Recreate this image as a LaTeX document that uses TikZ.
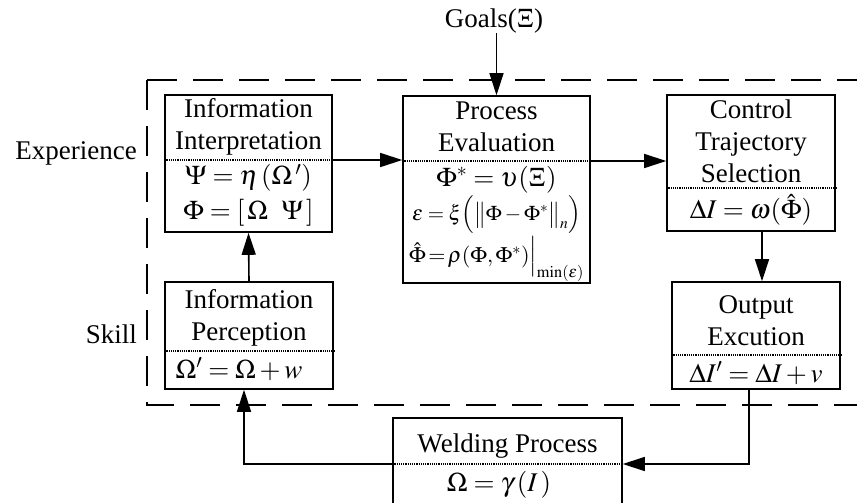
\documentclass[tikz,border=0pt]{standalone}
\usepackage{mathptmx}
\usepackage[no-math]{fontspec}
\setmainfont{Liberation Serif}
\usetikzlibrary{arrows.meta,positioning}

\begin{document}
\begin{tikzpicture}[x=1pt,y=-1pt,
        caja/.style={draw,line width=1.6pt,inner sep=0pt},
        texto/.style={font=\fontsize{27}{32}\selectfont,align=center,inner sep=0pt},
        formula/.style={font=\fontsize{27}{32}\selectfont,inner sep=0pt},
        punteado/.style={densely dotted,line width=1.2pt},
        flecha/.style={line width=1.6pt,-{Triangle[length=22pt,width=14pt]}}]
    \useasboundingbox (0,0) rectangle (857,503);
    \clip (0,0) rectangle (857,503);
    % Dashed frame of the two levels
    \draw[line width=1.6pt,dash pattern=on 30pt off 16pt] (147,80) -- (857,80);
    \draw[line width=1.6pt,dash pattern=on 30pt off 16pt] (147,80) -- (147,405) -- (857,405);
    \node[texto,anchor=east] (experience) at (137,153) {Experience};
    \node[texto,anchor=east] (skill) at (137,334) {Skill};
    % Boxes
    \node[caja,minimum width=167pt,minimum height=137pt] (interp) at (248.5,163.5) {};
    \node[caja,minimum width=187pt,minimum height=187pt] (eval) at (496.5,189.5) {};
    \node[caja,minimum width=168pt,minimum height=136pt] (select) at (751,163) {};
    \node[caja,minimum width=168pt,minimum height=107pt] (percep) at (249,335.5) {};
    \node[caja,minimum width=168pt,minimum height=107pt] (output) at (756,335.5) {};
    \node[caja,minimum width=229pt,minimum height=102pt] (weld) at (507.5,469) {};
    % Dotted dividers
    \draw[punteado] (interp.west |- 0,160) coordinate (interpIzq) -- (interp.east |- 0,160) coordinate (interpDer);
    \draw[punteado] (eval.west |- 0,161) coordinate (evalIzq) -- (eval.east |- 0,161) coordinate (evalDer);
    \draw[punteado] (select.west |- 0,188) -- (select.east |- 0,188);
    \draw[punteado] (percep.west |- 0,351) -- (percep.east |- 0,351);
    \draw[punteado] (output.west |- 0,355) -- (output.east |- 0,355);
    \draw[punteado] (weld.west |- 0,464) coordinate (weldIzq) -- (weld.east |- 0,464) coordinate (weldDer);
    % Titles and formulas
    \node[texto] (interpT) at (248.5,127) {Information\\Interpretation};
    \node[formula] (interpF1) at (248.5,178) {$\Psi = \eta\,(\Omega\,')$};
    \node[formula] (interpF2) at (248.5,213) {$\Phi = [\,\Omega\ \ \Psi\,]$};
    \node[texto] (evalT) at (496.5,127) {Process\\Evaluation};
    \node[formula] (evalF1) at (496.5,180) {$\Phi^* = \upsilon(\Xi)$};
    \node[formula,font=\fontsize{21}{25}\selectfont] (evalF2) at (496.5,215) {$\varepsilon = \xi\Bigl(\bigl\|\Phi-\Phi^*\bigr\|_n\Bigr)$};
    \node[formula,font=\fontsize{22}{26}\selectfont] (evalF3) at (496.5,259) {$\hat{\Phi}\!=\!\rho(\Phi,\Phi^*)\Big|_{\min(\varepsilon)}$};
    \node[texto] (selectT) at (751,141) {Control\\Trajectory\\Selection};
    \node[formula] (selectF) at (751,210) {$\Delta I = \omega(\hat{\Phi})$};
    \node[texto] (percepT) at (249,318) {Information\\Perception};
    \node[formula] (percepF) at (239,369) {$\Omega' = \Omega + w$};
    \node[texto] (outputT) at (756,321) {Output\\Excution};
    \node[formula] (outputF) at (756,373) {$\Delta I' = \Delta I + v$};
    \node[texto] (weldT) at (507.5,446) {Welding Process};
    \node[formula] (weldF) at (499,485) {$\Omega = \gamma\,(I\,)$};
    \node[texto] (goals) at (494,21) {Goals($\Xi$)};
    % Connectors
    \draw[flecha] (goals.south -| eval.north) -- (eval.north);
    \draw[flecha] (interpDer) -- (interpDer -| eval.west);
    \draw[flecha] (evalDer) -- (evalDer -| select.west);
    \draw[flecha] (select.south -| 762,0) -- (output.north -| 762,0);
    \draw[flecha] (output.south -| 749,0) |- (weldDer);
    \draw[flecha] (weldIzq) -| (percep.south -| 244,0);
    \draw[flecha] (percep.north) -- (interp.south);
\end{tikzpicture}
\end{document}
